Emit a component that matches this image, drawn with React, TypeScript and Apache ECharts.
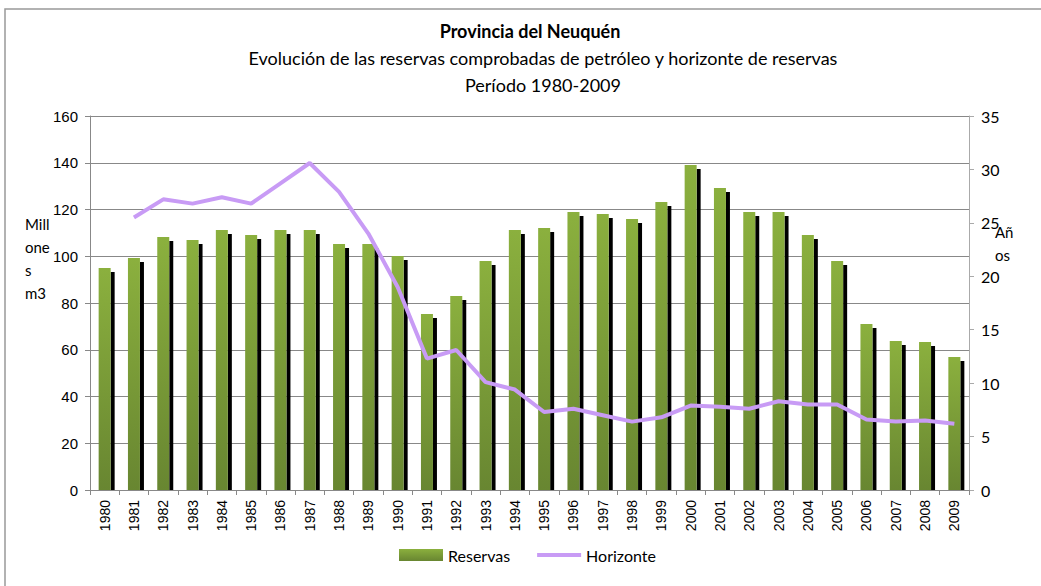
import React, { useEffect, useRef } from "react";
import * as echarts from "echarts";

const years = ["1980","1981","1982","1983","1984","1985","1986","1987","1988","1989","1990","1991","1992","1993","1994","1995","1996","1997","1998","1999","2000","2001","2002","2003","2004","2005","2006","2007","2008","2009"];
const reservas = [95.0, 99.3, 108.2, 107.0, 111.2, 109.1, 111.2, 111.2, 105.2, 105.2, 100.1, 75.3, 83.0, 98.0, 111.2, 112.1, 118.9, 118.1, 115.9, 123.2, 139.0, 129.2, 118.9, 118.9, 109.1, 98.0, 71.0, 63.7, 63.3, 56.9];
const horizonte: (number | null)[] = [null, 25.5, 27.2, 26.8, 27.4, 26.8, 28.7, 30.6, 27.9, 24.0, 19.0, 12.3, 13.1, 10.1, 9.4, 7.3, 7.6, 7.0, 6.4, 6.8, 7.9, 7.8, 7.6, 8.3, 8.0, 8.0, 6.6, 6.4, 6.5, 6.2];
const leftTicks = { min: 0, max: 160, interval: 20 };
const rightTicks = { min: 0, max: 35, interval: 5 };

const TITLE = "Provincia del Neuquén";
const SUB1 = "Evolución de las reservas comprobadas de petróleo y horizonte de reservas";
const SUB2 = "Período 1980-2009";

export default function App() {
  const ref = useRef<HTMLDivElement>(null);
  useEffect(() => {
    if (!ref.current) return;
    const chart = echarts.init(ref.current, undefined, { renderer: "svg" });
    const green = new echarts.graphic.LinearGradient(0, 0, 0, 1, [
      { offset: 0, color: "#8BB03E" },
      { offset: 1, color: "#688631" },
    ]);
    const legendGreen = new echarts.graphic.LinearGradient(0, 0, 0, 1, [
      { offset: 0, color: "#8BB03E" },
      { offset: 1, color: "#688631" },
    ]);
    const titleFont = "Lato";
    chart.setOption({
      animation: false,
      backgroundColor: "#fff",
      grid: { left: 90, right: 72, top: 116, bottom: 96, containLabel: false },
      legend: {
        bottom: 18,
        left: 394,
        itemGap: 27,
        itemWidth: 44,
        itemHeight: 12,
        textStyle: { fontFamily: titleFont, fontSize: 16, color: "#000" },
        data: [
          { name: "Reservas", icon: "rect", itemStyle: { color: legendGreen } },
          { name: "Horizonte", icon: "path://M0,0 L44,0 L44,4 L0,4 Z" },
        ],
      },
      xAxis: {
        type: "category",
        data: years,
        boundaryGap: true,
        axisLine: { lineStyle: { color: "#888" } },
        axisTick: { show: true, length: 5, lineStyle: { color: "#888" } },
        axisLabel: { rotate: 90, fontSize: 14, fontFamily: "Liberation Sans", color: "#000", margin: 10, interval: 0 },
      },
      yAxis: [
        {
          type: "value",
          ...leftTicks,
          axisLine: { show: true, lineStyle: { color: "#888" } },
          axisTick: { show: true, length: 5, lineStyle: { color: "#888" } },
          axisLabel: { fontSize: 15, fontFamily: "Liberation Sans", color: "#000", margin: 12 },
          splitLine: { show: true, lineStyle: { color: "#888", width: 1 } },
        },
        {
          type: "value",
          ...rightTicks,
          axisLine: { show: true, lineStyle: { color: "#aaa" } },
          axisTick: { show: true, length: 5, lineStyle: { color: "#aaa" } },
          axisLabel: { fontSize: 16, fontFamily: titleFont, color: "#000", margin: 12 },
          splitLine: { show: false },
        },
      ],
      series: [
        {
          name: "Sombra",
          type: "custom",
          z: 1,
          data: reservas.map((v, i) => [i, v]),
          renderItem: (params: any, api: any) => {
            const top = api.coord([api.value(0), api.value(1)]);
            const base = api.coord([api.value(0), 0]);
            const x = top[0] + 6;
            const y = top[1] + 4;
            return {
              type: "rect",
              shape: { x, y, width: 4, height: Math.max(0, base[1] - y) },
              style: { fill: "#000" },
            };
          },
          silent: true,
        },
        {
          name: "Reservas",
          type: "bar",
          z: 2,
          data: reservas,
          barWidth: 12,
          itemStyle: { color: green },
        },
        {
          name: "Horizonte",
          type: "line",
          z: 3,
          yAxisIndex: 1,
          data: horizonte,
          symbol: "none",
          lineStyle: { color: "#C89BF5", width: 4 },
          itemStyle: { color: "#C89BF5" },
        },
      ],
      graphic: [
        { type: "rect", shape: { x: 5, y: 9, width: 1100, height: 700 }, style: { fill: "none", stroke: "#999", lineWidth: 1.5 }, silent: true },
        { type: "text", x: 530, y: 22, style: { text: TITLE, font: `bold 18px ${titleFont}`, textAlign: "center", fill: "#000" } },
        { type: "text", x: 543, y: 49, style: { text: SUB1, font: `18px ${titleFont}`, textAlign: "center", fill: "#000" } },
        { type: "text", x: 543, y: 76, style: { text: SUB2, font: `18px ${titleFont}`, textAlign: "center", fill: "#000" } },
        { type: "text", x: 25, y: 212, style: { text: "Mill\none\ns\nm3", font: `15px ${titleFont}`, lineHeight: 23, fill: "#000" } },
        { type: "text", x: 995, y: 220, style: { text: "Añ\nos", font: `15px ${titleFont}`, lineHeight: 23, fill: "#000" } },
      ],
    });
    return () => chart.dispose();
  }, []);
  return <div ref={ref} style={{ width: 1041, height: 586, position: "absolute", left: 0, top: 0 }} />;
}
